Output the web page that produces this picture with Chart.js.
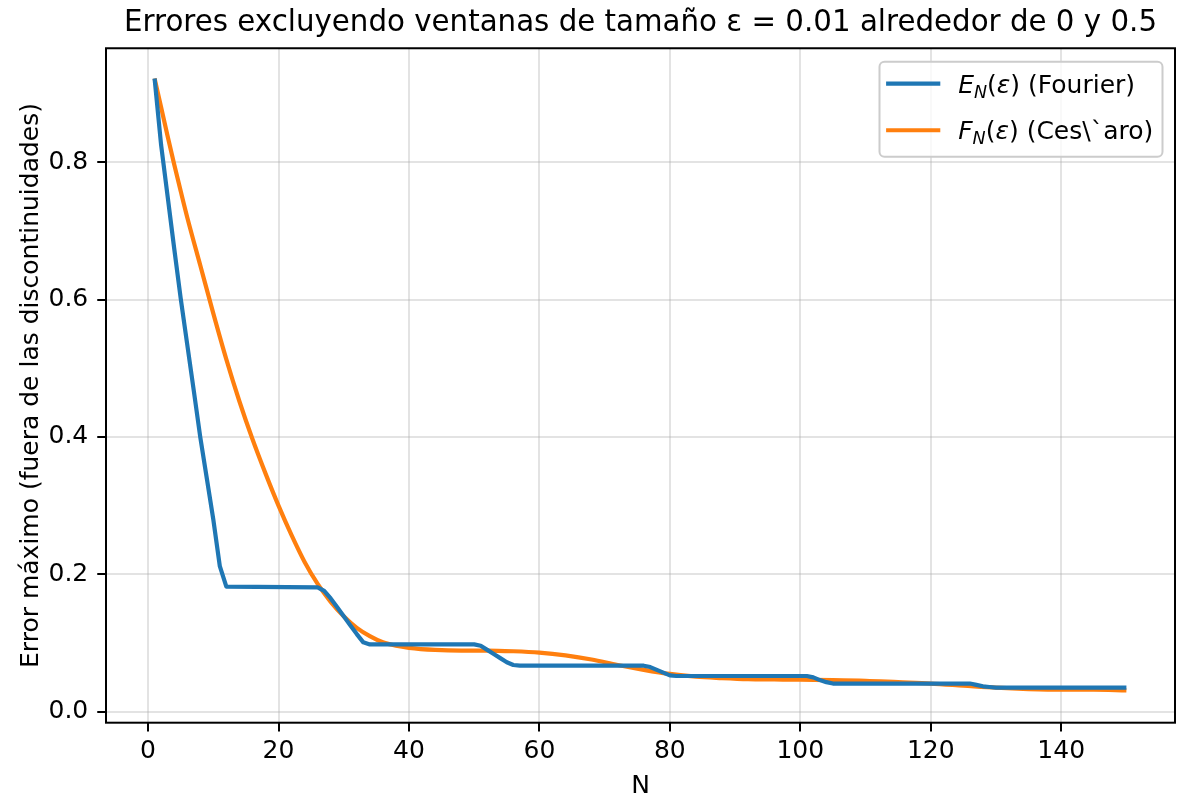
<!DOCTYPE html>
<html><head><meta charset="utf-8">
<script src="https://cdn.jsdelivr.net/npm/chart.js@4.4.1/dist/chart.umd.min.js"></script>
<style>html,body{margin:0;padding:0;background:#fff;overflow:hidden;}</style>
</head><body>
<canvas id="c" width="1183" height="805"></canvas>
<script>
const titleText = "Errores excluyendo ventanas de tamaño ε = 0.01 alrededor de 0 y 0.5";
const xLabel = "N";
const yLabel = "Error máximo (fuera de las discontinuidades)";
const fourierLabel = "E_N(ε) (Fourier)";
const cesaroLabel = "F_N(ε) (Ces\\`aro)";

const fourierN = [1,2,3,4,5,6,7,8,9,10,11,12,26,27,28,29,30,31,32,33,34,50,51,52,53,54,55,56,57,76,77,78,79,80,81,101,102,103,104,105,126,127,128,129,130,150];
const fourierErr = [0.922,0.825,0.75,0.675,0.602,0.535,0.468,0.40,0.34,0.28,0.212,0.182,
  0.181,0.176,0.165,0.152,0.139,0.126,0.113,0.101,0.098,
  0.098,0.096,0.090,0.084,0.078,0.072,0.068,0.067,
  0.067,0.065,0.061,0.057,0.053,0.052,
  0.052,0.050,0.046,0.043,0.041,
  0.041,0.039,0.037,0.036,0.035,
  0.035];

const cesaroN = [1,2,3,4,5,6,8,10,12,14,16,18,20,22,24,26,28,30,32,34,36,38,40,44,48,52,56,60,64,68,72,76,80,84,88,92,96,100,105,110,115,120,125,130,135,140,145,150];
const cesaroErr = [0.922,0.880,0.838,0.797,0.758,0.720,
  0.650,0.580,0.513,0.452,0.397,0.347,0.300,0.257,0.218,0.186,0.160,0.139,0.122,0.110,0.101,0.096,0.093,
  0.090,0.089,0.089,0.088,0.086,0.082,0.076,0.068,0.061,0.055,0.051,0.049,0.0475,0.047,0.0465,
  0.046,0.045,0.043,0.041,0.038,0.035,0.033,0.032,0.032,0.031];

const FONT = '"DejaVu Sans", sans-serif';

const framePlugin = {
  id: 'frame',
  afterDatasetsDraw(chart) {
    const {ctx, chartArea: a} = chart;
    ctx.save();
    ctx.strokeStyle = '#000';
    ctx.lineWidth = 2;
    ctx.strokeRect(a.left, a.top, a.right - a.left, a.bottom - a.top);
    ctx.restore();
  }
};

function drawRich(ctx, label, x, yMid, size) {
  const m = label.match(/^(\w)_(\w)\((.)\)(.*)$/);
  const base = yMid + size * 0.36;
  ctx.textBaseline = 'alphabetic';
  ctx.textAlign = 'left';
  if (!m) { ctx.font = size + 'px ' + FONT; ctx.fillText(label, x, base); return; }
  ctx.font = 'italic ' + size + 'px ' + FONT;
  ctx.fillText(m[1], x, base); x += ctx.measureText(m[1]).width;
  const ss = size * 0.7;
  ctx.font = 'italic ' + ss + 'px ' + FONT;
  ctx.fillText(m[2], x, base + size * 0.2); x += ctx.measureText(m[2]).width;
  ctx.font = size + 'px ' + FONT;
  ctx.fillText('(', x, base); x += ctx.measureText('(').width;
  ctx.font = 'italic ' + size + 'px ' + FONT;
  ctx.fillText(m[3], x, base); x += ctx.measureText(m[3]).width;
  ctx.font = size + 'px ' + FONT;
  ctx.fillText(')' + m[4], x, base);
}

const legendPlugin = {
  id: 'mplLegend',
  afterDraw(chart) {
    const {ctx, chartArea: a} = chart;
    const size = 25;
    const right = a.right - 12.5, top = a.top + 13.5;
    const w = 283, h = 95;
    const left = right - w;
    ctx.save();
    ctx.fillStyle = 'rgba(255,255,255,0.8)';
    ctx.strokeStyle = '#cccccc';
    ctx.lineWidth = 2;
    ctx.beginPath();
    ctx.roundRect(left, top, w, h, 5);
    ctx.fill(); ctx.stroke();
    chart.data.datasets.forEach((ds, i) => {
      const y = top + 21.8 + i * 46.7;
      ctx.strokeStyle = ds.borderColor;
      ctx.lineWidth = 4.2;
      ctx.lineCap = 'square';
      ctx.beginPath();
      ctx.moveTo(left + 8.7, y); ctx.lineTo(left + 58.7, y);
      ctx.stroke();
      ctx.fillStyle = '#000';
      drawRich(ctx, ds.label, left + 78.7, y, size);
    });
    ctx.restore();
  }
};

new Chart(document.getElementById('c'), {
  type: 'line',
  data: {
    datasets: [
      { label: fourierLabel, data: fourierN.map((n, i) => ({x: n, y: fourierErr[i]})),
        borderColor: '#1f77b4', borderWidth: 4.2, pointRadius: 0, tension: 0,
        borderJoinStyle: 'round', fill: false },
      { label: cesaroLabel, data: cesaroN.map((n, i) => ({x: n, y: cesaroErr[i]})),
        borderColor: '#ff7f0e', borderWidth: 4.2, pointRadius: 0,
        cubicInterpolationMode: 'monotone', borderJoinStyle: 'round', fill: false }
    ]
  },
  options: {
    responsive: false,
    animation: false,
    layout: { padding: { left: 0, right: 8, top: 0, bottom: 0 } },
    plugins: {
      legend: { display: false },
      tooltip: { enabled: false },
      title: {
        display: true, text: titleText, fullSize: false, color: '#000',
        font: { family: FONT, size: 29.3, weight: 'normal', lineHeight: 1.2 },
        padding: { top: 6.3, bottom: 6.8 }
      }
    },
    scales: {
      x: {
        type: 'linear', min: -6.45, max: 157.45,
        afterFit(s) { s.height = 82.3; },
        border: { display: false },
        grid: { color: 'rgba(176,176,176,0.35)', lineWidth: 2, tickColor: '#000', tickWidth: 2, tickLength: 8.75 },
        ticks: { stepSize: 20, includeBounds: false, color: '#000', padding: 5,
          font: { family: FONT, size: 25 }, maxRotation: 0 },
        title: { display: true, text: xLabel, color: '#000', font: { family: FONT, size: 25 }, padding: { top: 4, bottom: 4 } }
      },
      y: {
        type: 'linear', min: -0.016, max: 0.966,
        afterFit(s) { s.width = 106; },
        border: { display: false },
        grid: { color: 'rgba(176,176,176,0.35)', lineWidth: 2, tickColor: '#000', tickWidth: 2, tickLength: 8.75 },
        ticks: { stepSize: 0.2, includeBounds: false, color: '#000', padding: 9,
          font: { family: FONT, size: 25 }, callback: v => v.toFixed(1) },
        title: { display: true, text: yLabel, color: '#000', font: { family: FONT, size: 25 }, padding: { top: 16, bottom: 0 } }
      }
    }
  },
  plugins: [framePlugin, legendPlugin]
});
</script>
</body></html>
